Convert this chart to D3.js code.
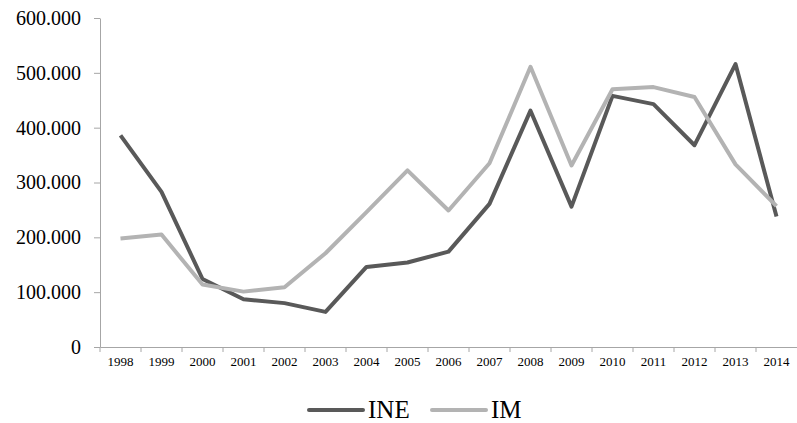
<!DOCTYPE html>
<html>
<head>
<meta charset="utf-8">
<script src="https://cdn.jsdelivr.net/npm/d3@7"></script>
<style>
  body { margin: 0; background: #fff; }
  text { font-family: "Liberation Serif", "Times New Roman", serif; fill: #000; }
</style>
</head>
<body>
<div id="chart"></div>
<script>
const years = ["1998","1999","2000","2001","2002","2003","2004","2005","2006","2007","2008","2009","2010","2011","2012","2013","2014"];
const ine = [386000, 283000, 124000, 87000, 80000, 64000, 146000, 154000, 174000, 261000, 431000, 256000, 458000, 443000, 368000, 516000, 238000];
const im = [198000, 205000, 114000, 101000, 109000, 171000, 246000, 322000, 249000, 335000, 511000, 331000, 470000, 474000, 456000, 333000, 257000];
const yTicks = [0, 100000, 200000, 300000, 400000, 500000, 600000];
const seriesNames = ["INE", "IM"];
const seriesColors = ["#595959", "#b3b3b3"];

const W = 797, H = 423;
const margin = {top: 18, right: 0, bottom: 76, left: 100};
const width = W - margin.left - margin.right;
const height = H - margin.top - margin.bottom;

const svg = d3.select("#chart").append("svg")
    .attr("width", W)
    .attr("height", H);
const g = svg.append("g")
    .attr("transform", "translate(" + margin.left + "," + margin.top + ")");

let x = d3.scaleBand().domain(years).range([0, width]);
let y = d3.scaleLinear().domain([0, 600000]).range([height, 0]);
const fmt = d => d === 0 ? "0" : d3.format(",")(d).replace(/,/g, ".");

// y axis
const yAxis = g.append("g")
    .call(d3.axisLeft(y).tickValues(yTicks).tickFormat(fmt).tickSize(6).tickSizeOuter(0));
yAxis.select(".domain").attr("stroke", "#a6a6a6");
yAxis.selectAll(".tick line").attr("stroke", "#a6a6a6");
yAxis.selectAll(".tick text").attr("x", -19).attr("font-size", "20px").attr("dy", "0.32em");

// x axis with ticks on band boundaries
const xAxis = g.append("g")
    .attr("transform", "translate(0," + height + ")")
    .call(d3.axisBottom(x).tickSize(0).tickSizeOuter(0));
xAxis.select(".domain").attr("stroke", "#a6a6a6");
xAxis.selectAll(".tick text").attr("font-size", "13px").attr("dy", "0").attr("y", 19);
g.append("g").selectAll("line")
    .data(years)
  .enter().append("line")
    .attr("x1", d => x(d)).attr("x2", d => x(d))
    .attr("y1", height).attr("y2", height + 5)
    .attr("stroke", "#a6a6a6");

// lines
const line = d3.line()
    .x((d, i) => x(years[i]) + x.bandwidth() / 2)
    .y(d => y(d));
[ine, im].forEach((s, k) => {
  g.append("path")
      .datum(s)
      .attr("fill", "none")
      .attr("stroke", seriesColors[k])
      .attr("stroke-width", 4)
      .attr("stroke-linejoin", "round")
      .attr("d", line);
});

// legend
const legendX = [309, 432];
seriesNames.forEach((n, k) => {
  const lg = svg.append("g").attr("transform", "translate(" + legendX[k] + ",410)");
  lg.append("line")
      .attr("x1", 0).attr("x2", 54)
      .attr("stroke", seriesColors[k])
      .attr("stroke-width", 4)
      .attr("stroke-linecap", "round");
  lg.append("text")
      .attr("x", 59)
      .attr("dy", "0.33em")
      .attr("font-size", "25px")
      .text(n);
});
</script>
</body>
</html>
